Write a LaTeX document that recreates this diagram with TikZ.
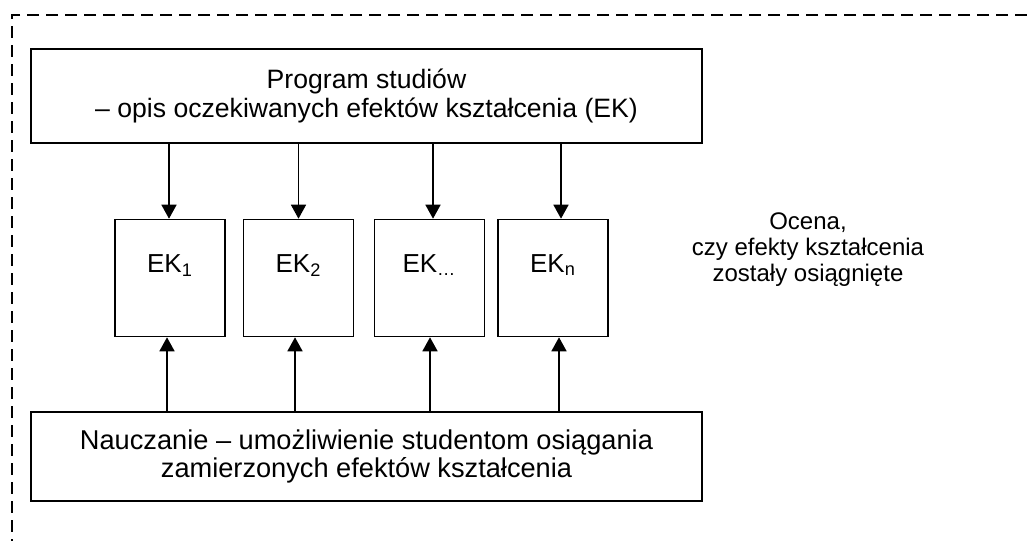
\documentclass[tikz,border=0pt]{standalone}
\usepackage{fontspec}
\setmainfont{Liberation Sans}
\usetikzlibrary{arrows.meta}

\begin{document}
\begin{tikzpicture}[x=0.5pt, y=-0.5pt, >={Triangle[length=7pt, width=7.5pt]},
    bigbox/.style = {draw, line width=0.8pt, inner sep=0pt, align=center,
        minimum width=335.5pt},
    ekbox/.style = {draw, line width=0.8pt, inner sep=0pt, minimum width=55pt,
        minimum height=58.5pt, text height=9.5pt, text depth=15.5pt,
        font=\fontsize{13}{14.5}\selectfont},
    arr/.style = {->, line width=0.8pt}]
    \useasboundingbox (0,0) rectangle (1027,541);

    % dashed frame, only the top and left edge are on the page
    \draw [dash pattern=on 6pt off 3.5pt, line width=0.7pt] (1027,15) -- (12,15) -- (12,541);

    \node [bigbox, minimum height=47pt, font=\fontsize{13.3}{14.5}\selectfont] (prog) at (366.5,96)
        {Program studiów\\– opis oczekiwanych efektów kształcenia (EK)};
    \node [bigbox, minimum height=44.5pt, font=\fontsize{13.6}{14}\selectfont] (naucz) at (366.5,456.5)
        {Nauczanie – umożliwienie studentom osiągania\\zamierzonych efektów kształcenia};

    % the four EK boxes
    \foreach \name/\x/\sub in {ek1/170/1, ek2/298.5/2, ekd/429.5/\ldots, ekn/553/n}{
        \node [ekbox] (\name) at (\x,278) {EK\textsubscript{\sub}};
    }

    % arrows in and out (shift of the down / up arrow)
    \foreach \name/\dd/\du in {ek1/-0.5/-1.5, ek2/0/-1.75, ekd/1.75/0.25, ekn/4/3}{
        \draw [arr] ([xshift=\dd pt]prog.south -| \name.north) -- ([xshift=\dd pt]\name.north);
        \draw [arr] ([xshift=\du pt]naucz.north -| \name.south) -- ([xshift=\du pt]\name.south);
    }

    \node [font=\fontsize{12}{13}\selectfont, align=center] (ocena) at (808,250)
        {Ocena,\\czy efekty kształcenia\\zostały osiągnięte};
\end{tikzpicture}
\end{document}
